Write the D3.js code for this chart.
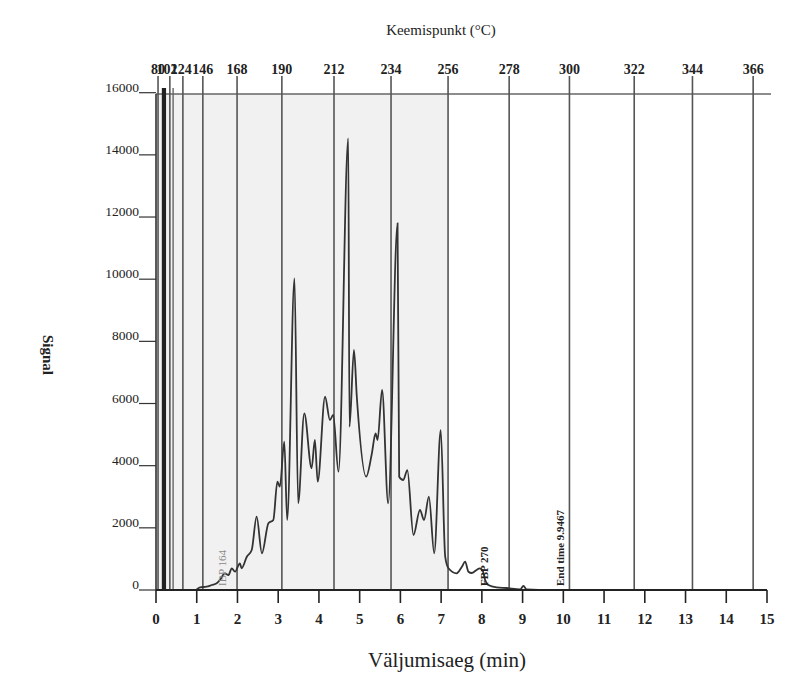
<!DOCTYPE html>
<html>
<head>
<meta charset="utf-8">
<script src="https://cdn.jsdelivr.net/npm/d3@7"></script>
<style>
  body { margin: 0; background: #fff; }
  svg { display: block; font-family: "Liberation Serif", "Times New Roman", serif; }
</style>
</head>
<body>
<svg id="chart" width="794" height="677"></svg>
<script>
// --- DATA ---
const times = [1.0, 1.08, 1.24, 1.37, 1.49, 1.57, 1.69, 1.78, 1.86, 1.94, 2.06, 2.10, 2.23, 2.35,
  2.47, 2.60, 2.76, 2.88, 2.98, 3.04, 3.15, 3.22, 3.40, 3.49, 3.64, 3.82, 3.90, 3.97,
  4.15, 4.27, 4.35, 4.48, 4.72, 4.75, 4.86, 4.93, 5.16, 5.30, 5.39, 5.44, 5.55, 5.70,
  5.93, 5.97, 6.07, 6.17, 6.32, 6.48, 6.58, 6.70, 6.83, 6.99, 7.10, 7.18, 7.38, 7.51,
  7.59, 7.67, 7.75, 7.87, 7.95, 8.03, 8.08, 8.16, 8.36, 8.61, 8.94, 9.02, 9.10, 9.67, 15.0];
const signal = [20, 87, 106, 161, 216, 322, 537, 483, 698, 589, 859, 698, 1071, 1287,
  2358, 1181, 2146, 2252, 3484, 3323, 4771, 2252, 10027, 2789, 5684, 3915, 4826, 3484,
  6218, 5469, 5630, 3806, 14531, 5253, 7721, 6218, 3645, 4398, 5041, 4826, 6434, 2789,
  11797, 3645, 3539, 3860, 1769, 2574, 2252, 3001, 1181, 5147, 1071, 698, 537, 750,
  910, 589, 547, 643, 698, 589, 322, 161, 87, 64, 23, 129, 23, 0, 0];

const bpLabels = ["80", "102", "124", "146", "168", "190", "212", "234", "256", "278", "300", "322", "344", "366"];
const bpTimes = [0.05, 0.34, 0.66, 1.15, 1.99, 3.09, 4.37, 5.77, 7.17, 8.67, 10.15, 11.74, 13.17, 14.66];
const bpLabelTimes = [0.05, 0.27, 0.62, 1.15, 1.99, 3.09, 4.37, 5.77, 7.17, 8.67, 10.15, 11.74, 13.17, 14.66];
const solventTimes = [0.17, 0.22, 0.42];

const xTicks = [0, 1, 2, 3, 4, 5, 6, 7, 8, 9, 10, 11, 12, 13, 14, 15];
const yTicks = [0, 2000, 4000, 6000, 8000, 10000, 12000, 14000, 16000];

const notes = [
  { text: "IBP 164", t: 1.62, color: "#888", weight: "normal" },
  { text: "FBP 270", t: 8.05, color: "#222", weight: "bold" },
  { text: "End time 9.9467", t: 9.93, color: "#222", weight: "bold" }
];

// --- SCALES ---
const svg = d3.select("#chart");
const x = d3.scaleLinear().domain([0, 15]).range([156, 767]);
const y = d3.scaleLinear().domain([0, 16000]).range([590, 92.7]);
const TOP = 94, BOTTOM = 590;

// shaded distillation range
svg.append("rect")
  .attr("x", x(0)).attr("y", TOP)
  .attr("width", x(bpTimes[8]) - x(0)).attr("height", BOTTOM - TOP)
  .attr("fill", "#f1f1f1");

// top border line
svg.append("line")
  .attr("x1", x(0)).attr("x2", 771).attr("y1", TOP).attr("y2", TOP)
  .attr("stroke", "#666").attr("stroke-width", 1.6);

// boiling point marker lines
svg.selectAll(".bp").data(bpTimes).join("line")
  .attr("class", "bp")
  .attr("x1", d => x(d)).attr("x2", d => x(d))
  .attr("y1", 76).attr("y2", BOTTOM)
  .attr("stroke", "#555").attr("stroke-width", 1.6);

svg.selectAll(".bpl").data(bpLabels).join("text")
  .attr("class", "bpl")
  .attr("x", (d, i) => x(bpLabelTimes[i]))
  .attr("y", 74)
  .attr("text-anchor", "middle")
  .attr("font-size", 14).attr("font-weight", "bold").attr("fill", "#222")
  .text(d => d);

// solvent peaks
svg.selectAll(".solv").data(solventTimes).join("line")
  .attr("class", "solv")
  .attr("x1", d => x(d)).attr("x2", d => x(d))
  .attr("y1", 88).attr("y2", BOTTOM)
  .attr("stroke", (d, i) => i < 2 ? "#222" : "#666")
  .attr("stroke-width", (d, i) => i < 2 ? 2.2 : 1.4);

// signal trace
const line = d3.line()
  .x((d, i) => x(times[i]))
  .y(d => y(d))
  .curve(d3.curveMonotoneX);

svg.append("path")
  .datum(signal)
  .attr("d", line)
  .attr("fill", "none")
  .attr("stroke", "#333")
  .attr("stroke-width", 1.8);

// annotations
svg.selectAll(".note").data(notes).join("text")
  .attr("class", "note")
  .attr("transform", d => `translate(${x(d.t) + 4},${BOTTOM - 4}) rotate(-90)`)
  .attr("font-size", 11).attr("font-weight", d => d.weight).attr("fill", d => d.color)
  .text(d => d.text);

// y axis
svg.append("line")
  .attr("x1", x(0)).attr("x2", x(0)).attr("y1", TOP).attr("y2", BOTTOM)
  .attr("stroke", "#333").attr("stroke-width", 1.6);

const yg = svg.selectAll(".ytick").data(yTicks).join("g").attr("class", "ytick");
yg.append("line")
  .attr("x1", 139).attr("x2", x(0))
  .attr("y1", d => y(d)).attr("y2", d => y(d))
  .attr("stroke", "#333").attr("stroke-width", 1.2);
yg.append("text")
  .attr("x", 139).attr("y", d => y(d) - 1)
  .attr("text-anchor", "end")
  .attr("font-size", 13.5).attr("fill", "#222")
  .text(d => d);

// x axis
svg.append("line")
  .attr("x1", x(0)).attr("x2", x(15)).attr("y1", BOTTOM).attr("y2", BOTTOM)
  .attr("stroke", "#222").attr("stroke-width", 2.2);

const xg = svg.selectAll(".xtick").data(xTicks).join("g").attr("class", "xtick");
xg.append("line")
  .attr("x1", d => x(d)).attr("x2", d => x(d))
  .attr("y1", BOTTOM).attr("y2", BOTTOM + 13)
  .attr("stroke", "#222").attr("stroke-width", 1.6);
xg.append("text")
  .attr("x", d => x(d)).attr("y", 624)
  .attr("text-anchor", "middle")
  .attr("font-size", 15).attr("font-weight", "bold").attr("fill", "#222")
  .text(d => d);

// titles
svg.append("text")
  .attr("x", 447).attr("y", 667).attr("text-anchor", "middle")
  .attr("font-size", 21).attr("fill", "#222")
  .text("Väljumisaeg (min)");

svg.append("text")
  .attr("x", 441).attr("y", 35).attr("text-anchor", "middle")
  .attr("font-size", 15).attr("fill", "#222")
  .text("Keemispunkt (°C)");

svg.append("text")
  .attr("transform", "translate(43,355) rotate(90)")
  .attr("text-anchor", "middle")
  .attr("font-size", 15).attr("font-weight", "bold").attr("fill", "#222")
  .text("Signal");
</script>
</body>
</html>
